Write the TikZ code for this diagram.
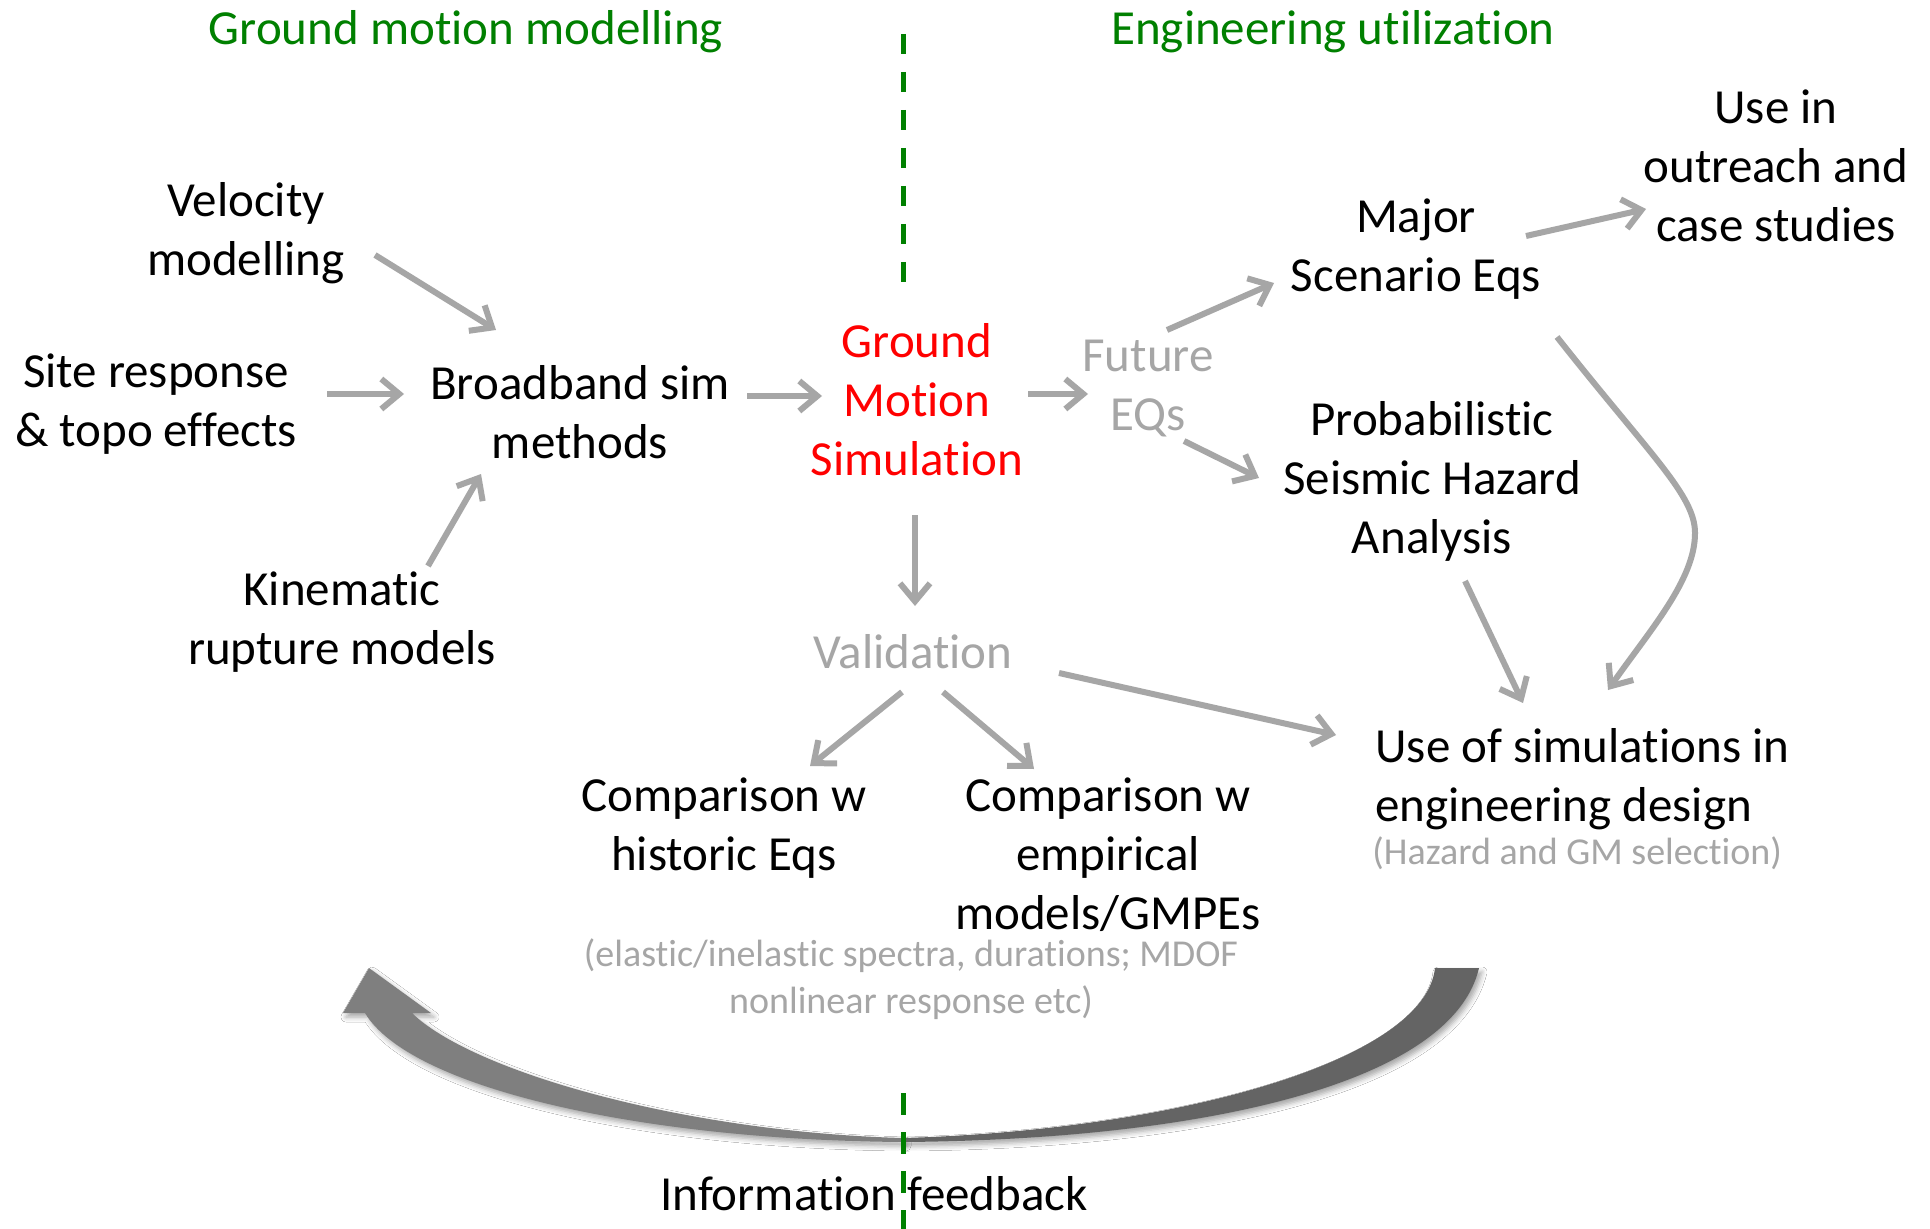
\documentclass[tikz,border=0pt]{standalone}
\usepackage{fontspec}
\setmainfont{Carlito}[Ligatures=NoCommon]
\usetikzlibrary{arrows.meta,shadows.blur}
\definecolor{ggreen}{RGB}{0,128,0}
\definecolor{lgray}{RGB}{166,166,166}
\definecolor{agray}{RGB}{166,166,166}
\definecolor{bgrayL}{RGB}{127,127,127}
\definecolor{bgrayR}{RGB}{100,100,100}
\definecolor{gred}{RGB}{255,0,0}
\begin{document}
\begin{tikzpicture}[x=0.5pt,y=-0.5pt,
  txt/.style={font=\fontsize{24.5}{29.5}\selectfont, align=center, inner sep=0pt},
  gtxt/.style={txt, text=lgray},
  stxt/.style={font=\fontsize{19}{23.5}\selectfont, align=center, inner sep=0pt, text=lgray},
  arr/.style={draw=agray, line width=3pt, -{Straight Barb[length=9pt,width=15pt]}},
  gdash/.style={draw=ggreen, line width=2.5pt},
  bigshadow/.style={blur shadow={shadow xshift=1.5pt, shadow yshift=-2pt, shadow opacity=35, shadow blur radius=2.5pt}}]
\useasboundingbox (0,0) rectangle (1930,1229);
\fill[white] (0,0) rectangle (1930,1229);

% headings
\node[txt, text=ggreen, anchor=base] (hdl) at (466,45) {Ground motion modelling};
\node[txt, text=ggreen, anchor=base] (hdr) at (1333,45) {Engineering utilization};

% nodes
\node[txt] (vel) at (246,233) {Velocity\\modelling};
\node[txt] (site) at (156,404) {Site response\\\& topo effects};
\node[txt] (bb) at (580,412) {Broadband sim\\methods};
\node[txt] (kin) at (342,622) {Kinematic\\rupture models};
\node[txt, text=gred] (gms) at (917,400) {Ground\\Motion\\Simulation};
\node[gtxt] (fut) at (1148,389) {Future\\EQs};
\node[txt] (maj) at (1416,249) {Major\\Scenario Eqs};
\node[txt] (out) at (1776,166) {Use in\\outreach and\\case studies};
\node[txt] (psha) at (1432,481) {Probabilistic\\Seismic Hazard\\Analysis};
\node[gtxt, anchor=base] (val) at (913,668) {Validation};
\node[txt] (hist) at (724,828) {Comparison w\\historic Eqs};
\node[txt] (emp) at (1108,855) {Comparison w\\empirical\\models/GMPEs};
\node[stxt] (ela) at (911,979) {(elastic/inelastic spectra, durations; MDOF\\nonlinear response etc)};
\node[txt, align=left, anchor=west] (use) at (1375,779) {Use of simulations in\\engineering design};
\node[stxt, anchor=base west] (haz) at (1372,864) {(Hazard and GM selection)};
\node[txt, anchor=base] (info) at (874,1210) {Information feedback};

% arrows
\draw[arr] ([shift={(129,22)}]vel.center) -- ([shift={(-84,-82)}]bb.center);
\draw[arr] ([shift={(171,-10)}]site.center) -- ([shift={(-176,-18)}]bb.center);
\draw[arr] ([shift={(86,-56)}]kin.center) -- ([shift={(-99,62)}]bb.center);
\draw[arr] ([shift={(167,-16)}]bb.center) -- ([shift={(-95,-4)}]gms.center);
\draw[arr] ([shift={(111,-6)}]gms.center) -- ([shift={(-60,5)}]fut.center);
\draw[arr] ([shift={(19,-59)}]fut.center) -- ([shift={(-142,34)}]maj.center);
\draw[arr] ([shift={(110,-13)}]maj.center) -- ([shift={(-130,43)}]out.center);
\draw[arr] ([shift={(36,52)}]fut.center) -- ([shift={(-173,-3)}]psha.center);
\draw[arr] ([shift={(141,88)}]maj.center) .. controls (1650,455) and (1695,495) .. (1695,533)
  .. controls (1695,580) and (1650,630) .. ([shift={(233,-89)}]use.west);
\draw[arr] ([shift={(33,100)}]psha.center) -- ([shift={(148,-76)}]use.west);
\draw[arr] ([shift={(-2,115)}]gms.center) -- ([shift={(2,-62)}]val.base);
\draw[arr] ([shift={(146,5)}]val.base) -- ([shift={(-39,-44)}]use.west);
\draw[arr] ([shift={(-11,24)}]val.base) -- ([shift={(86,-62)}]hist.center);
\draw[arr] ([shift={(30,24)}]val.base) -- ([shift={(-74,-86)}]emp.center);

% big feedback arrow
\fill[bgrayL, bigshadow] (365,1013) .. controls (410,1088) and (640,1140) .. (903,1142)
  -- (903,1138) .. controls (680,1132) and (470,1070) .. (412,1013)
  -- (431,1013) -- (369,968) -- (343,1013) -- cycle;
\fill[bgrayR, bigshadow] (903,1142) .. controls (1180,1140) and (1450,1090) .. (1479,968)
  -- (1435,968) .. controls (1425,1060) and (1180,1130) .. (903,1138) -- cycle;

% dashed separators
\draw[gdash, dash pattern=on 10pt off 9pt] (903,34) -- (903,283);
\draw[gdash, dash pattern=on 11pt off 8.5pt] (903,1093) -- (903,1229);
\end{tikzpicture}
\end{document}
